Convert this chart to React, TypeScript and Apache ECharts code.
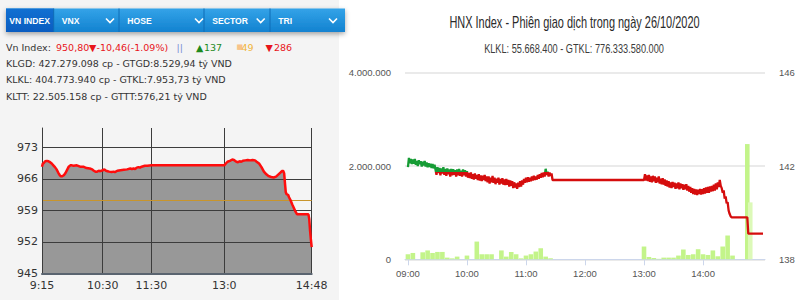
import React, { useEffect, useRef } from 'react';
import * as echarts from 'echarts';

// ---------------- VN-Index panel (left) ----------------
const vnTickLabels = ['9:15', '10:30', '11:30', '13:0', '14:48'];
const vnYTicks = [945, 952, 959, 966, 973];
const vnRefValue = 961.26;
const vnPoints: [string, number][] = [
  ['9:15', 968.7], ['9:16', 969.4], ['9:17', 969.5], ['9:19', 969.9], ['9:21', 970.0], ['9:23', 969.9],
  ['9:25', 969.7], ['9:27', 969.4], ['9:29', 969.0], ['9:31', 968.6], ['9:33', 968.1], ['9:35', 967.4],
  ['9:37', 966.8], ['9:38', 966.6], ['9:40', 966.6], ['9:42', 966.8], ['9:44', 967.3], ['9:46', 968.0],
  ['9:48', 968.7], ['9:50', 969.0], ['9:52', 969.0], ['9:54', 968.9], ['9:58', 969.0], ['10:02', 968.7],
  ['10:06', 968.7], ['10:10', 968.4], ['10:14', 968.3], ['10:17', 968.1], ['10:19', 967.8], ['10:21', 967.6],
  ['10:23', 967.6], ['10:25', 967.8], ['10:27', 967.7], ['10:30', 967.9], ['10:32', 968.1], ['10:34', 967.8],
  ['10:36', 967.7], ['10:38', 967.6], ['10:41', 967.5], ['10:43', 967.6], ['10:45', 967.5], ['10:48', 967.8],
  ['10:52', 967.9], ['10:56', 968.0], ['11:00', 968.1], ['11:04', 968.3], ['11:06', 968.2], ['11:08', 968.3],
  ['11:10', 968.2], ['11:12', 968.5], ['11:14', 968.6], ['11:16', 968.5], ['11:18', 968.7], ['11:22', 968.9],
  ['11:25', 968.9], ['11:30', 969.0], ['13:00', 969.0], ['13:02', 969.4], ['13:04', 969.8], ['13:07', 970.0],
  ['13:10', 970.3], ['13:12', 970.2], ['13:15', 969.8], ['13:17', 969.7], ['13:19', 969.9], ['13:21', 969.8],
  ['13:23', 970.0], ['13:26', 970.1], ['13:29', 970.2], ['13:32', 970.1], ['13:35', 970.2], ['13:38', 970.1],
  ['13:40', 969.8], ['13:43', 969.4], ['13:46', 968.6], ['13:49', 967.6], ['13:52', 967.0], ['13:55', 966.6],
  ['13:58', 966.4], ['14:01', 966.3], ['14:04', 966.5], ['14:07', 967.0], ['14:10', 967.5], ['14:12', 967.8],
  ['14:13', 967.7], ['14:14', 967.2], ['14:15', 965.0], ['14:16', 963.0], ['14:17', 962.6], ['14:19', 962.4],
  ['14:20', 961.9], ['14:22', 961.2], ['14:24', 960.3], ['14:26', 959.5], ['14:28', 958.7], ['14:30', 958.1],
  ['14:44', 958.1], ['14:45', 957.0], ['14:46', 954.5], ['14:47', 952.5], ['14:48', 950.8],
];

const tabLabels = ['VN INDEX', 'VNX', 'HOSE', 'SECTOR', 'TRI'];
const infoLines = [
  'KLGD: 427.279.098 cp - GTGD:8.529,94 tỷ VND',
  'KLKL: 404.773.940 cp - GTKL:7.953,73 tỷ VND',
  'KLTT: 22.505.158 cp - GTTT:576,21 tỷ VND',
];
const vnHeadline = {
  label: 'Vn Index:', value: '950,80', change: '-10,46(-1.09%)',
  up: '137', same: '49', down: '286',
};

// ---------------- HNX-Index panel (right) ----------------
const hnxTitle = 'HNX Index - Phiên giao dịch trong ngày 26/10/2020';
const hnxSubtitle = 'KLKL: 55.668.400 - GTKL: 776.333.580.000';
const hnxHourLabels = ['09:00', '10:00', '11:00', '12:00', '13:00', '14:00'];
const hnxRefValue = 141.76;
const hnxVolumes: [string, number][] = [
  ['09:00', 108000], ['09:05', 136000], ['09:15', 150000], ['09:20', 190000], ['09:25', 136000],
  ['09:30', 158000], ['09:35', 158000], ['09:40', 36000], ['09:45', 20000], ['09:50', 58000],
  ['10:00', 80000], ['10:10', 380000], ['10:15', 108000], ['10:20', 108000], ['10:25', 108000],
  ['10:35', 190000], ['10:40', 58000], ['10:45', 158000], ['10:50', 108000], ['10:55', 20000],
  ['11:00', 80000], ['11:05', 108000], ['11:10', 166000], ['11:15', 237000], ['11:20', 58000],
  ['11:25', 22000],
  ['13:00', 274000], ['13:05', 50000], ['13:10', 28000], ['13:15', 10000], ['13:20', 36000],
  ['13:25', 36000], ['13:30', 36000], ['13:35', 80000], ['13:40', 210000], ['13:45', 93000],
  ['13:50', 108000], ['13:55', 216000], ['14:00', 108000], ['14:05', 93000], ['14:10', 190000],
  ['14:15', 65000], ['14:20', 274000], ['14:25', 510000], ['14:30', 80000], ['14:45', 2470000],
  ['14:48', 1220000],
];
const hnxPrices: [string, number][] = [
  ['09:00', 141.95], ['09:01', 142.35], ['09:02', 142.12], ['09:03', 142.3], ['09:04', 142.08], ['09:05', 142.28],
  ['09:06', 142.1], ['09:07', 142.3], ['09:08', 142.05], ['09:09', 142.22], ['09:10', 142.0], ['09:11', 142.25],
  ['09:12', 142.08], ['09:13', 142.2], ['09:14', 141.98], ['09:15', 142.18], ['09:16', 142.02], ['09:17', 142.22],
  ['09:18', 141.98], ['09:19', 142.15], ['09:20', 141.95], ['09:21', 142.12], ['09:22', 141.96], ['09:23', 142.1],
  ['09:24', 141.92], ['09:25', 142.08], ['09:26', 141.9], ['09:27', 142.05], ['09:28', 141.85], ['09:29', 141.62],
  ['09:30', 141.95], ['09:31', 141.7], ['09:32', 141.92], ['09:33', 141.6], ['09:34', 141.9], ['09:35', 141.68],
  ['09:36', 141.95], ['09:37', 141.62], ['09:38', 141.88], ['09:39', 141.58], ['09:40', 141.9], ['09:41', 141.65],
  ['09:42', 141.85], ['09:43', 141.55], ['09:44', 141.88], ['09:45', 141.6], ['09:46', 141.86], ['09:47', 141.62],
  ['09:48', 141.82], ['09:49', 141.55], ['09:50', 141.85], ['09:51', 141.6], ['09:52', 141.88], ['09:53', 141.58],
  ['09:54', 141.8], ['09:55', 141.55], ['09:56', 141.85], ['09:57', 141.6], ['09:58', 141.82], ['09:59', 141.55],
  ['10:00', 141.78], ['10:01', 141.5], ['10:02', 141.7], ['10:03', 141.48], ['10:04', 141.72], ['10:05', 141.45],
  ['10:06', 141.65], ['10:07', 141.42], ['10:08', 141.68], ['10:09', 141.45], ['10:10', 141.62], ['10:11', 141.4],
  ['10:12', 141.65], ['10:13', 141.38], ['10:14', 141.6], ['10:15', 141.35], ['10:16', 141.58], ['10:17', 141.4],
  ['10:18', 141.62], ['10:19', 141.35], ['10:20', 141.55], ['10:21', 141.3], ['10:22', 141.55], ['10:23', 141.25],
  ['10:24', 141.5], ['10:25', 141.3], ['10:26', 141.58], ['10:27', 141.28], ['10:28', 141.5], ['10:29', 141.22],
  ['10:30', 141.45], ['10:31', 141.28], ['10:32', 141.5], ['10:33', 141.2], ['10:34', 141.45], ['10:35', 141.25],
  ['10:36', 141.48], ['10:37', 141.2], ['10:38', 141.42], ['10:39', 141.18], ['10:40', 141.45], ['10:41', 141.2],
  ['10:42', 141.4], ['10:43', 141.12], ['10:44', 141.38], ['10:45', 141.15], ['10:46', 141.35], ['10:47', 141.05],
  ['10:48', 141.3], ['10:49', 141.08], ['10:50', 141.25], ['10:51', 141.02], ['10:52', 141.28], ['10:53', 141.1],
  ['10:54', 141.35], ['10:55', 141.12], ['10:56', 141.38], ['10:57', 141.2], ['10:58', 141.45], ['10:59', 141.28],
  ['11:00', 141.5], ['11:01', 141.3], ['11:02', 141.52], ['11:03', 141.32], ['11:04', 141.5], ['11:05', 141.35],
  ['11:06', 141.55], ['11:07', 141.38], ['11:08', 141.58], ['11:09', 141.4], ['11:10', 141.55], ['11:11', 141.42],
  ['11:12', 141.62], ['11:13', 141.45], ['11:14', 141.65], ['11:15', 141.5], ['11:16', 141.7], ['11:17', 141.52],
  ['11:18', 141.72], ['11:19', 141.55], ['11:20', 141.88], ['11:21', 141.62], ['11:22', 141.75], ['11:23', 141.55],
  ['11:24', 141.72], ['11:25', 141.58], ['11:26', 141.68], ['11:27', 141.4],
  ['13:00', 141.4], ['13:01', 141.65], ['13:02', 141.38], ['13:03', 141.6], ['13:04', 141.35], ['13:05', 141.62],
  ['13:06', 141.32], ['13:07', 141.55], ['13:08', 141.3], ['13:09', 141.58], ['13:10', 141.35], ['13:11', 141.55],
  ['13:12', 141.28], ['13:13', 141.5], ['13:14', 141.3], ['13:15', 141.55], ['13:16', 141.25], ['13:17', 141.45],
  ['13:18', 141.22], ['13:19', 141.48], ['13:20', 141.2], ['13:21', 141.42], ['13:22', 141.15], ['13:23', 141.38],
  ['13:24', 141.12], ['13:25', 141.35], ['13:26', 141.08], ['13:27', 141.3], ['13:28', 141.05], ['13:29', 141.32],
  ['13:30', 141.1], ['13:31', 141.28], ['13:32', 141.02], ['13:33', 141.25], ['13:34', 141.05], ['13:35', 141.3],
  ['13:36', 141.0], ['13:37', 141.25], ['13:38', 141.05], ['13:39', 141.22], ['13:40', 140.98], ['13:41', 141.2],
  ['13:42', 141.0], ['13:43', 141.22], ['13:44', 140.95], ['13:45', 141.15], ['13:46', 140.9], ['13:47', 141.1],
  ['13:48', 140.85], ['13:49', 141.05], ['13:50', 140.8], ['13:51', 141.02], ['13:52', 140.78], ['13:53', 141.0],
  ['13:54', 140.75], ['13:55', 140.98], ['13:56', 140.8], ['13:57', 141.02], ['13:58', 140.78], ['13:59', 141.0],
  ['14:00', 140.8], ['14:01', 141.05], ['14:02', 140.82], ['14:03', 141.08], ['14:04', 140.85], ['14:05', 141.1],
  ['14:06', 140.85], ['14:07', 141.12], ['14:08', 140.9], ['14:09', 141.15], ['14:10', 140.92], ['14:11', 141.2],
  ['14:12', 140.95], ['14:13', 141.25], ['14:14', 141.0], ['14:15', 141.3], ['14:16', 141.1], ['14:17', 141.4],
  ['14:18', 141.15], ['14:19', 141.05], ['14:20', 140.85], ['14:21', 140.95], ['14:22', 140.6], ['14:23', 140.7],
  ['14:24', 140.4], ['14:25', 140.45], ['14:26', 140.1], ['14:27', 139.95], ['14:28', 139.85], ['14:29', 139.8],
  ['14:45', 139.8], ['14:46', 139.1], ['15:01', 139.1],
];

// ---------------- helpers ----------------
const toMin = (s: string) => {
  const [h, m] = s.split(':').map(Number);
  return h * 60 + m;
};
const fmtMin = (t: number) => `${Math.floor(t / 60)}:${String(t % 60).padStart(2, '0')}`;
const VN_START = toMin('9:15');
const VN_END = toMin('14:48');
const HNX_START = toMin('08:57');
const HNX_END = toMin('15:03');
const SANS = "'Liberation Sans', Arial, sans-serif";
const TAHOMA = "'DejaVu Sans', Verdana, sans-serif";
const dotted = (v: number) => String(Math.round(v)).replace(/\B(?=(\d{3})+(?!\d))/g, '.');

export default function App() {
  const ref = useRef<HTMLDivElement>(null);

  useEffect(() => {
    if (!ref.current) return;
    const chart = echarts.init(ref.current, undefined, { renderer: 'svg' });

    // minute-by-minute category domains
    const vnCats: string[] = [];
    for (let t = VN_START; t <= VN_END; t++) vnCats.push(fmtMin(t));
    const hnxCats: string[] = [];
    for (let t = HNX_START; t <= HNX_END; t++) hnxCats.push(fmtMin(t));

    const vnTickIdx = vnTickLabels.map((t) => toMin(t) - VN_START);
    const hnxTickIdx = hnxHourLabels.map((t) => toMin(t) - HNX_START);
    const vnData = vnPoints.map(([t, v]) => [toMin(t) - VN_START, v]);
    const hnxVolData = hnxVolumes.map(([t, v]) => [toMin(t) - HNX_START, v]);
    const hnxPriceData = hnxPrices.map(([t, v]) => [toMin(t) - HNX_START, v]);

    // header graphics
    const tabX = [6, 53.7, 119, 204, 270];
    const tabTextX = [9.3, 61.7, 127.3, 212.3, 278.3];
    const chevronX = [110, 199, 260.7, 333];
    const graphics: any[] = [
      {
        type: 'rect', shape: { x: 6, y: 8.5, width: 339, height: 23.5 },
        style: {
          fill: { type: 'linear', x: 0, y: 0, x2: 0, y2: 1, colorStops: [
            { offset: 0, color: '#34a3e8' }, { offset: 1, color: '#1282d0' }] },
          shadowBlur: 5, shadowColor: 'rgba(0,0,0,0.35)', shadowOffsetY: 2,
        },
      },
      {
        type: 'rect', shape: { x: 6, y: 8.5, width: 47.7, height: 23.5 },
        style: {
          fill: { type: 'linear', x: 0, y: 0, x2: 0, y2: 1, colorStops: [
            { offset: 0, color: '#1170d2' }, { offset: 1, color: '#0a5cc0' }] },
        },
      },
      ...tabX.slice(1).map((x) => ({
        type: 'line', shape: { x1: x, y1: 8.5, x2: x, y2: 32 },
        style: { stroke: '#0f6cb6', lineWidth: 1 },
      })),
      ...tabLabels.map((t, i) => ({
        type: 'text', x: tabTextX[i], y: 20.5,
        style: { text: t, fill: '#ffffff', font: `bold 8.6px ${SANS}`, verticalAlign: 'middle', align: 'left' },
      })),
      ...chevronX.map((cx) => ({
        type: 'polyline', shape: { points: [[cx - 4, 18.5], [cx, 22.5], [cx + 4, 18.5]] },
        style: { stroke: '#ffffff', lineWidth: 1.6 },
      })),
    ];
    const txt = (text: string, x: number, y: number, fill: string, size = 9.5) => ({
      type: 'text', x, y,
      style: { text, fill, font: `${size}px ${TAHOMA}`, verticalAlign: 'middle', align: 'left' },
    });
    graphics.push(
      txt(vnHeadline.label, 6, 47, '#333333'),
      txt(vnHeadline.value, 56, 47, '#e8151b'),
      txt('▼', 89, 47, '#e8151b'),
      txt(vnHeadline.change, 96.5, 47, '#e8151b'),
      txt('||', 176.5, 47, '#7a8fd6'),
      txt('▲', 196, 47, '#1d8a1d'),
      txt(vnHeadline.up, 204, 47, '#1d8a1d'),
      txt('■', 236.5, 47, '#f8c38a', 7),
      txt(vnHeadline.same, 241.5, 47, '#f0b43a'),
      txt('▼', 265.5, 47, '#e8151b'),
      txt(vnHeadline.down, 274, 47, '#e8151b'),
      ...infoLines.map((l, i) => txt(l, 6, [63, 79.5, 96][i], '#333333')),
      {
        type: 'text', x: 574.5, y: 22.5, scaleX: 0.685,
        style: { text: hnxTitle, fill: '#2a2a2a', font: `16px ${SANS}`, align: 'center', verticalAlign: 'middle' },
      },
      {
        type: 'text', x: 574, y: 48, scaleX: 0.707,
        style: { text: hnxSubtitle, fill: '#3c3c3c', font: `13px ${SANS}`, align: 'center', verticalAlign: 'middle' },
      },
    );

    const option: any = {
      animation: false,
      graphic: graphics,
      grid: [
        { left: 42, top: 128, width: 269.7, height: 145.3 },
        { left: 405, top: 72.7, width: 360, height: 186.6 },
      ],
      xAxis: [
        {
          gridIndex: 0, type: 'category', data: vnCats, boundaryGap: false, z: 3,
          axisLine: { show: true, lineStyle: { color: '#5a6470', width: 2 } },
          axisTick: { show: false },
          axisLabel: {
            interval: (i: number) => vnTickIdx.includes(i),
            formatter: (_v: string, i: number) => vnTickLabels[vnTickIdx.indexOf(i)] ?? '',
            color: '#333', fontSize: 11, fontFamily: TAHOMA, margin: 7,
          },
          splitLine: { show: true, interval: (i: number) => vnTickIdx.includes(i), lineStyle: { color: '#3c3c3c', width: 1 } },
        },
        {
          gridIndex: 1, type: 'category', data: hnxCats, boundaryGap: false,
          axisLine: { show: true, lineStyle: { color: '#ccd6eb', width: 1 } },
          axisTick: { show: true, interval: (i: number) => hnxTickIdx.includes(i), length: 6, lineStyle: { color: '#ccd6eb' } },
          axisLabel: {
            interval: (i: number) => hnxTickIdx.includes(i),
            formatter: (_v: string, i: number) => hnxHourLabels[hnxTickIdx.indexOf(i)] ?? '',
            color: '#555', fontSize: 9.5, fontFamily: SANS, margin: 9,
          },
          splitLine: { show: false },
        },
      ],
      yAxis: [
        {
          gridIndex: 0, type: 'value', min: vnYTicks[0], max: 977.3, interval: vnYTicks[1] - vnYTicks[0], z: 3,
          axisLine: { show: true, lineStyle: { color: '#3c3c3c' } },
          axisTick: { show: false },
          axisLabel: { color: '#333', fontSize: 11, fontFamily: TAHOMA, margin: 4, showMaxLabel: false },
          splitLine: { show: false },
        },
        {
          gridIndex: 1, type: 'value', min: 0, max: 4000000, interval: 2000000,
          axisLine: { show: false }, axisTick: { show: false },
          axisLabel: { color: '#555', fontSize: 9.5, fontFamily: SANS, margin: 14, formatter: (v: number) => dotted(v) },
          splitLine: { show: true, lineStyle: { color: '#e3e3e3', width: 1.5 } },
        },
        {
          gridIndex: 1, type: 'value', position: 'right', min: 138, max: 146, interval: 4,
          axisLine: { show: false }, axisTick: { show: false },
          axisLabel: { color: '#555', fontSize: 9.5, fontFamily: SANS, margin: 14 },
          splitLine: { show: false },
        },
      ],
      visualMap: [
        {
          type: 'piecewise', show: false, seriesIndex: 3, dimension: 1,
          pieces: [
            { gt: 100, lte: hnxRefValue, color: '#d50d0d' },
            { gt: hnxRefValue, lte: 200, color: '#169c35' },
          ],
          outOfRange: { color: '#d50d0d' },
        },
      ],
      series: [
        {
          name: 'VN-Index area', type: 'line', xAxisIndex: 0, yAxisIndex: 0, data: vnData, z: 1,
          showSymbol: false, lineStyle: { width: 0, color: 'transparent' },
          areaStyle: { color: '#989898', opacity: 1, origin: 'start' },
          markLine: {
            silent: true, symbol: ['none', 'none'], label: { show: false }, z: 3,
            lineStyle: { color: '#3c3c3c', width: 1, type: 'solid' },
            data: [
              ...vnYTicks.map((v) => ({ yAxis: v })),
              { yAxis: vnRefValue, lineStyle: { color: '#c8952c', width: 1, type: 'solid' } },
            ],
          },
        },
        {
          name: 'VN-Index', type: 'line', xAxisIndex: 0, yAxisIndex: 0, data: vnData, z: 5,
          showSymbol: false, lineStyle: { width: 2.5, color: '#ff0d0d' },
        },
        {
          name: 'HNX volume', type: 'bar', xAxisIndex: 1, yAxisIndex: 1, data: hnxVolData, barWidth: 4.6,
          itemStyle: { color: (p: any) => (p.dataIndex === hnxVolData.length - 1 ? '#dcf9b8' : '#c3f48a') },
        },
        {
          name: 'HNX-Index', type: 'line', xAxisIndex: 1, yAxisIndex: 2, data: hnxPriceData, z: 4,
          showSymbol: false, lineStyle: { width: 2.3 },
        },
      ],
    };
    chart.setOption(option);
    return () => chart.dispose();
  }, []);

  return (
    <div
      ref={ref}
      style={{
        position: 'fixed', left: 0, top: 0, width: 800, height: 300,
        background: 'linear-gradient(to right, #f4f4f4 0px, #f4f4f4 339px, #ffffff 339px)',
      }}
    />
  );
}
